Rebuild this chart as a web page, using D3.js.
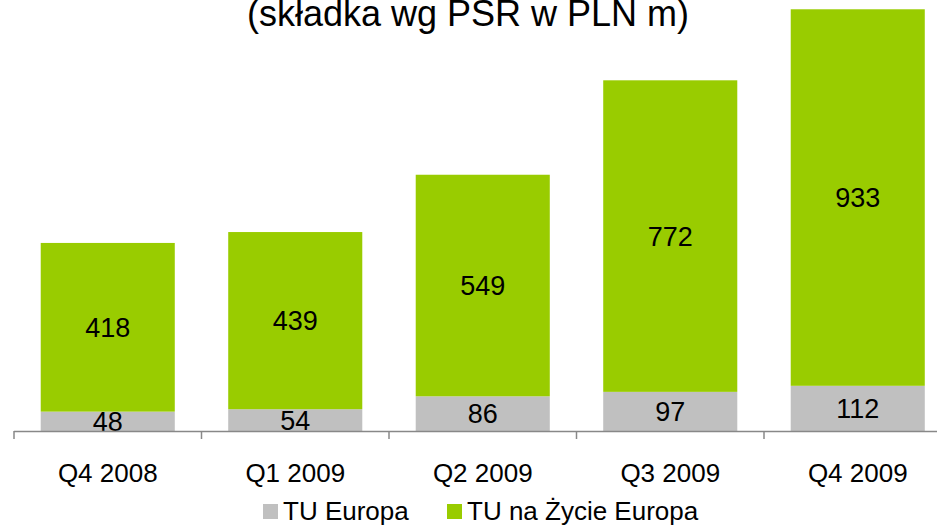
<!DOCTYPE html>
<html>
<head>
<meta charset="utf-8">
<script src="https://cdn.jsdelivr.net/npm/d3@7"></script>
<style>
  html, body { margin: 0; padding: 0; background: #fff; }
  svg { display: block; font-family: Arial, "Liberation Sans", sans-serif; }
</style>
</head>
<body>
<svg id="chart" width="937" height="526"></svg>
<script>
const categories = ['Q4 2008', 'Q1 2009', 'Q2 2009', 'Q3 2009', 'Q4 2009'];
const tuEuropa = [48, 54, 86, 97, 112];
const tuNaZycie = [418, 439, 549, 772, 933];
const seriesNames = ['TU Europa', 'TU na Życie Europa'];
const seriesColors = ['#C0C0C0', '#99CC00'];
const titleText = '(składka wg PSR w PLN m)';

const svg = d3.select('#chart');
const baseY = 431;

const x = d3.scaleBand()
  .domain(categories)
  .range([14, 951.5])
  .paddingInner(0.285)
  .paddingOuter(0.1425);

const y = d3.scaleLinear()
  .domain([0, 1068])
  .range([baseY, 0]);

const rows = categories.map((c, i) => ({ cat: c, a: tuEuropa[i], b: tuNaZycie[i] }));
const stacked = d3.stack().keys(['a', 'b'])(rows);

// title (only the second line shows, like the original crop)
svg.append('text')
  .attr('x', 468)
  .attr('y', 26)
  .attr('text-anchor', 'middle')
  .attr('font-size', 36)
  .attr('fill', '#000')
  .text(titleText);

// bars + value labels
stacked.forEach((layer, i) => {
  svg.append('g').selectAll('rect')
    .data(layer)
    .enter().append('rect')
    .attr('x', d => x(d.data.cat))
    .attr('width', x.bandwidth())
    .attr('y', d => y(d[1]))
    .attr('height', d => y(d[0]) - y(d[1]))
    .attr('fill', seriesColors[i]);

  svg.append('g').selectAll('text')
    .data(layer)
    .enter().append('text')
    .attr('x', d => x(d.data.cat) + x.bandwidth() / 2)
    .attr('y', d => (y(d[0]) + y(d[1])) / 2)
    .attr('dy', '0.36em')
    .attr('text-anchor', 'middle')
    .attr('font-size', 27)
    .attr('fill', '#000')
    .text(d => d[1] - d[0]);
});

// axis
const step = x.step();
const edges = categories.map(c => x(c) - step * x.paddingInner() / 2);
edges.push(edges[edges.length - 1] + step);

const axis = svg.append('g');
axis.append('line')
  .attr('x1', edges[0]).attr('x2', 937)
  .attr('y1', baseY + 0.5).attr('y2', baseY + 0.5)
  .attr('stroke', '#888').attr('stroke-width', 1.5);
axis.selectAll('.tick')
  .data(edges)
  .enter().append('line')
  .attr('x1', d => d).attr('x2', d => d)
  .attr('y1', baseY).attr('y2', baseY + 8)
  .attr('stroke', '#888').attr('stroke-width', 1.5);

axis.selectAll('.cat')
  .data(categories)
  .enter().append('text')
  .attr('x', d => x(d) + x.bandwidth() / 2)
  .attr('y', 482)
  .attr('text-anchor', 'middle')
  .attr('font-size', 26)
  .attr('fill', '#000')
  .text(d => d);

// legend
const legendX = [263, 447];
const legend = svg.append('g');
seriesNames.forEach((name, i) => {
  legend.append('rect')
    .attr('x', legendX[i]).attr('y', 504)
    .attr('width', 15).attr('height', 15)
    .attr('fill', seriesColors[i]);
  legend.append('text')
    .attr('x', legendX[i] + 20)
    .attr('y', 520)
    .attr('font-size', 26)
    .attr('fill', '#000')
    .text(name);
});
</script>
</body>
</html>
